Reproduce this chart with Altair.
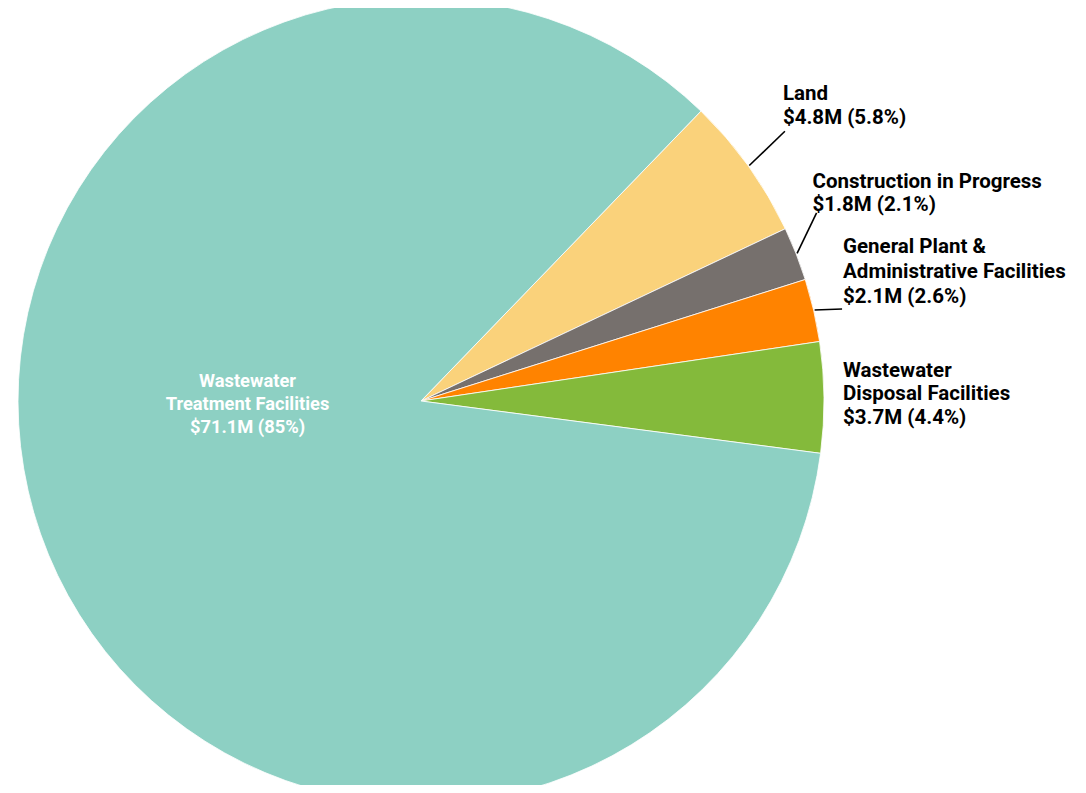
import math
import altair as alt
import pandas as pd

# ---- data ----
categories = [
    "Land",
    "Construction in Progress",
    "General Plant & Administrative Facilities",
    "Wastewater Disposal Facilities",
    "Wastewater Treatment Facilities",
]
values = [4.8, 1.8, 2.1, 3.7, 71.1]          # $ millions
percents = ["5.8%", "2.1%", "2.6%", "4.4%", "85%"]
label_names = [
    "Land",
    "Construction in Progress",
    "General Plant &\nAdministrative Facilities",
    "Wastewater\nDisposal Facilities",
    "Wastewater\nTreatment Facilities",
]
colors = ["#FAD27B", "#76706D", "#FF8300", "#84BA3B", "#8DD0C3"]

df = pd.DataFrame({
    "idx": list(range(len(categories))),
    "category": categories,
    "value": values,
    "pct": percents,
    "name": label_names,
})
df["label"] = df["name"] + "\n$" + df["value"].map(lambda v: f"{v:.1f}") + "M (" + df["pct"] + ")"

# ---- layout / style ----
W, H = 1070, 777
CX, CY = 413, 393
R = 403
START = math.radians(44)
FONT = "Roboto, sans-serif"
FS = 20.5
FS_IN = 18.3

arcs = alt.Chart(df).mark_arc(
    outerRadius=R, x=CX, y=CY, stroke="white", strokeWidth=0.8
).encode(
    theta=alt.Theta("value:Q", stack=True,
                    scale=alt.Scale(range=[START, START + 2 * math.pi])),
    color=alt.Color("category:N",
                    scale=alt.Scale(domain=categories, range=colors), legend=None),
    order=alt.Order("idx:Q", sort="ascending"),
)

geo = alt.Chart(df).transform_joinaggregate(
    total="sum(value)"
).transform_window(
    cum="sum(value)", sort=[alt.SortField("idx", order="ascending")], frame=[None, 0]
).transform_calculate(
    mid=f"{START} + 2*PI*(datum.cum - datum.value/2)/datum.total"
)


def leader(cat, r_in, r_out, shift_deg):
    s = math.radians(shift_deg)
    return geo.transform_filter(alt.datum.category == cat).transform_calculate(
        lx1=f"{CX} + {r_in}*sin(datum.mid)",
        ly1=f"{CY} - {r_in}*cos(datum.mid)",
        lx2=f"{CX} + {r_out}*sin(datum.mid + {s})",
        ly2=f"{CY} - {r_out}*cos(datum.mid + {s})",
    ).mark_rule(color="black", strokeWidth=1.6).encode(
        x=alt.X("lx1:Q", scale=None, axis=None),
        y=alt.Y("ly1:Q", scale=None, axis=None),
        x2="lx2:Q",
        y2="ly2:Q",
    )


def label(cat, r, shift_deg, dx, dyb, align, color, fs, lh):
    s = math.radians(shift_deg)
    return geo.transform_filter(alt.datum.category == cat).transform_calculate(
        tx=f"{CX} + {r}*sin(datum.mid + {s})",
        ty=f"{CY} - {r}*cos(datum.mid + {s})",
    ).mark_text(
        align=align, baseline="top", dx=dx, dy=dyb - round(0.79 * fs),
        font=FONT, fontSize=fs, fontWeight="bold", color=color,
        lineBreak="\n", lineHeight=lh,
    ).encode(
        x=alt.X("tx:Q", scale=None, axis=None),
        y=alt.Y("ty:Q", scale=None, axis=None),
        text="label:N",
    )


layers = [
    arcs,
    leader("Land", R + 1, 453, -0.9),
    leader("Construction in Progress", R + 1, 438, -4.0),
    leader("General Plant & Administrative Facilities", R + 1, 431, 0.7),
    label("Land", 453, -0.9, -2, -31.7, "left", "black", FS, 24),
    label("Construction in Progress", 438, -4.0, -4, -24.7, "left", "black", FS, 23),
    label("General Plant & Administrative Facilities", 431, 0.7, 1, -56, "left", "black", FS, 25),
    label("Wastewater Disposal Facilities", R, 0, 19, -20.4, "left", "black", FS, 23.5),
    label("Wastewater Treatment Facilities", 0, 0, -173.5, -14, "center", "white", FS_IN, 23),
]

chart = alt.layer(*layers).properties(
    width=W, height=H, padding=0, autosize="none"
).configure_view(stroke=None)

chart.save("out.html", embed_options={"renderer": "svg", "actions": False})
